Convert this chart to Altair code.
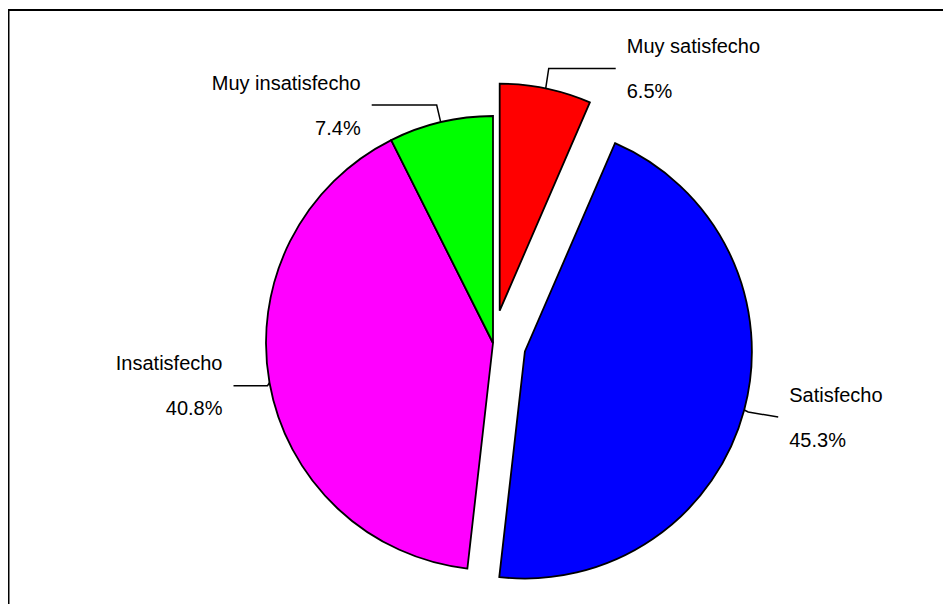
import altair as alt
import numpy as np
import pandas as pd

# ---- data ----
categories = ["Muy satisfecho", "Satisfecho", "Insatisfecho", "Muy insatisfecho"]
percent = [6.5, 45.3, 40.8, 7.4]
pct_labels = ["6.5%", "45.3%", "40.8%", "7.4%"]
colors = ["#FF0000", "#0000FF", "#FF00FF", "#00FF00"]
exploded = [1, 1, 0, 0]

# ---- layout (pixels) ----
W, H = 935, 596
CX, CY = 485, 335
R = 227
EXPLODE = 33
# leader: arc point -> elbow (ex, ey) -> end (+rx, +ry)
lead_ex = [3, 4, -2, -4]
lead_ey = [-20, 2, 3, -17]
lead_rx = [67, 30, -34, -65]
lead_ry = [0, 5, 0, 0]
LABEL_GAP = 11
LINE_OFF = 22.5
FONT = "Liberation Sans"
FS = 20

cum = np.concatenate([[0.0], np.cumsum(percent)])
start = cum[:-1]
end = cum[1:]
mid = (start + end) / 2.0
ang = mid / 100.0 * 2 * np.pi

cx = CX + np.array(exploded) * EXPLODE * np.sin(ang)
cy = CY - np.array(exploded) * EXPLODE * np.cos(ang)
px = cx + R * np.sin(ang)
py = cy - R * np.cos(ang)

df = pd.DataFrame({
    "cat": categories,
    "start": start,
    "end": end,
    "cx": cx,
    "cy": cy,
})

rows = []
lab = []
for i, c in enumerate(categories):
    x0, y0 = px[i], py[i]
    x1, y1 = x0 + lead_ex[i], y0 + lead_ey[i]
    x2, y2 = x1 + lead_rx[i], y1 + lead_ry[i]
    for k, (xx, yy) in enumerate([(x0, y0), (x1, y1), (x2, y2)]):
        rows.append({"cat": c, "k": k, "x": xx, "y": yy})
    right = lead_rx[i] > 0
    tx = x2 + LABEL_GAP if right else x2 - LABEL_GAP
    lab.append({"cat": c, "pct": pct_labels[i], "tx": tx,
                "ty1": y2 - LINE_OFF + 7, "ty2": y2 + LINE_OFF + 7,
                "al": "left" if right else "right"})
lead_df = pd.DataFrame(rows)
lab_df = pd.DataFrame(lab)

arcs = alt.Chart(df).mark_arc(
    radius=R, stroke="black", strokeWidth=1.8, strokeJoin="miter"
).encode(
    theta=alt.Theta("start:Q", scale=alt.Scale(domain=[0, 100], range=[0, 2 * np.pi])),
    theta2="end:Q",
    x=alt.X("cx:Q", scale=None, axis=None),
    y=alt.Y("cy:Q", scale=None, axis=None),
    color=alt.Color("cat:N", scale=alt.Scale(domain=categories, range=colors), legend=None),
)

leaders = alt.Chart(lead_df).mark_line(color="black", strokeWidth=1.5).encode(
    x=alt.X("x:Q", scale=None, axis=None),
    y=alt.Y("y:Q", scale=None, axis=None),
    detail="cat:N",
    order="k:Q",
)

def text_layer(align, field, yfield):
    return alt.Chart(lab_df).transform_filter(
        alt.datum.al == align
    ).mark_text(align=align, baseline="alphabetic", font=FONT, fontSize=FS, color="black").encode(
        x=alt.X("tx:Q", scale=None, axis=None),
        y=alt.Y(yfield + ":Q", scale=None, axis=None),
        text=field + ":N",
    )

texts = [
    text_layer("left", "cat", "ty1"), text_layer("left", "pct", "ty2"),
    text_layer("right", "cat", "ty1"), text_layer("right", "pct", "ty2"),
]

frame = alt.Data(values=[{"a": 1}])
left_rule = alt.Chart(frame).mark_rule(color="black", strokeWidth=2).encode(
    x=alt.value(0.5), y=alt.value(1), y2=alt.value(H)
)
top_rule = alt.Chart(frame).mark_rule(color="black", strokeWidth=2).encode(
    x=alt.value(0), x2=alt.value(W), y=alt.value(2)
)

chart = alt.layer(arcs, leaders, *texts, left_rule, top_rule).properties(
    width=W, height=H, padding=0, autosize=alt.AutoSizeParams(type="none"),
    background="white",
).configure_view(stroke=None)

chart.save("out.html", embed_options={"renderer": "svg", "actions": False})
